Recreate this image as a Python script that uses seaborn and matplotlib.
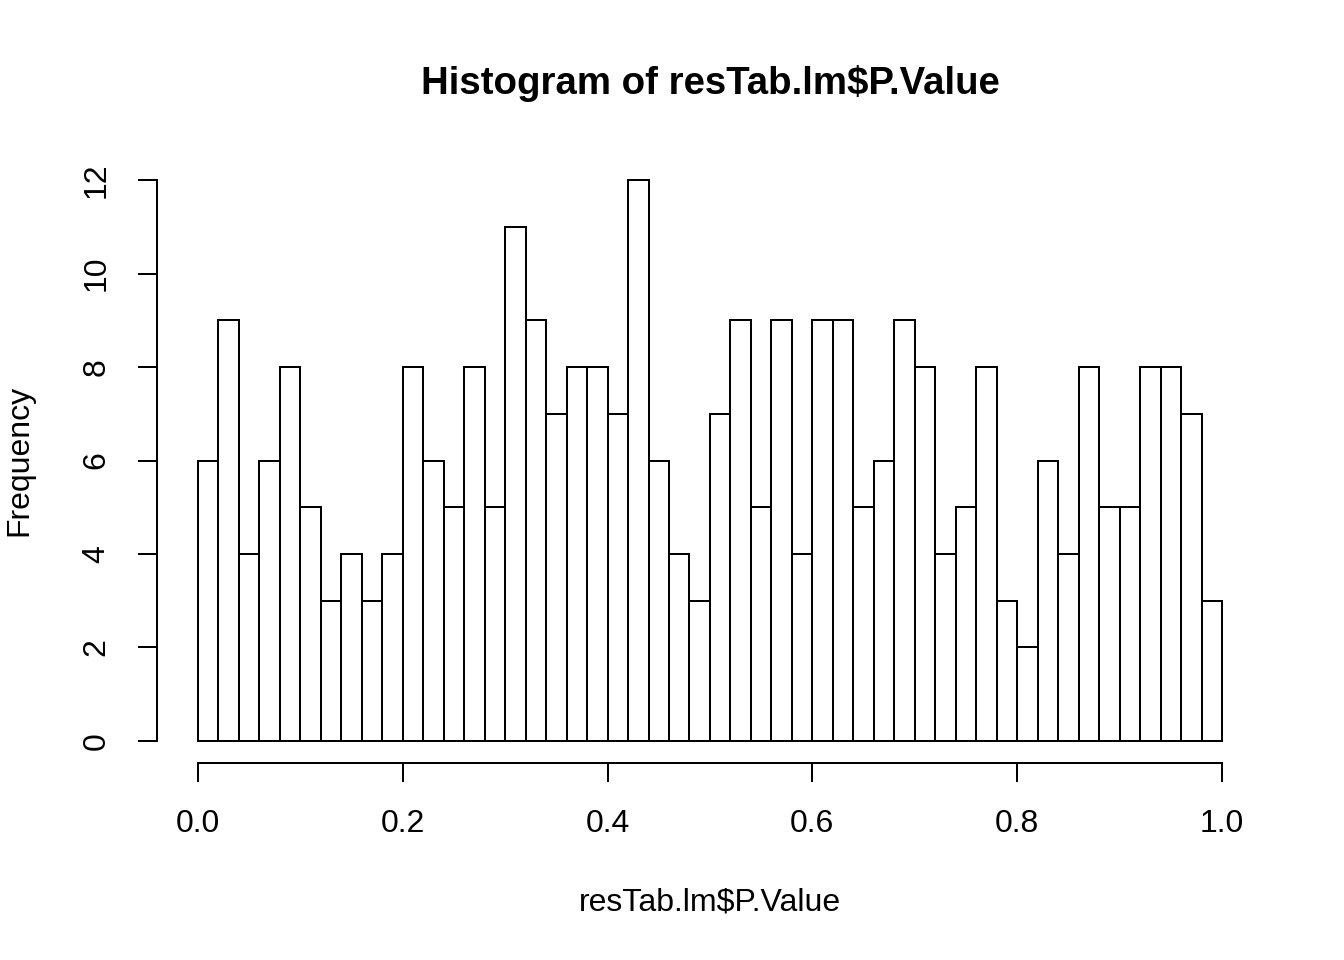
import numpy as np
import pandas as pd
import matplotlib
matplotlib.use("Agg")
import matplotlib.pyplot as plt
import seaborn as sns

# histogram counts, 50 bins of width 0.02 from 0 to 1
counts = [6, 9, 4, 6, 8, 5, 3, 4, 3, 4,
          8, 6, 5, 8, 5, 11, 9, 7, 8, 8,
          7, 12, 6, 4, 3, 7, 9, 5, 9, 4,
          9, 9, 5, 6, 9, 8, 4, 5, 8, 3,
          2, 6, 4, 8, 5, 5, 8, 8, 7, 3]
bin_edges = np.linspace(0, 1, 51)
x_ticks = [0.0, 0.2, 0.4, 0.6, 0.8, 1.0]
y_ticks = [0, 2, 4, 6, 8, 10, 12]

df = pd.DataFrame({"mid": (bin_edges[:-1] + bin_edges[1:]) / 2, "n": counts})

sns.set_style("white")
plt.rcParams["font.family"] = ["Liberation Sans", "DejaVu Sans"]
plt.rcParams["text.color"] = "black"
plt.rcParams["axes.labelcolor"] = "black"
plt.rcParams["xtick.color"] = "black"
plt.rcParams["ytick.color"] = "black"

fig = plt.figure(figsize=(13.44, 9.6), dpi=100)
ax = fig.add_axes([0.1168, 0.2048, 0.8229, 0.631])

sns.histplot(data=df, x="mid", weights="n", binwidth=0.02, binrange=(0, 1),
             ax=ax, color="white", edgecolor="black", linewidth=1.44, alpha=1)

ax.set_xlim(-0.04, 1.04)
ax.set_ylim(-0.48, 12.48)
ax.set_xticks(x_ticks)
ax.set_xticklabels([f"{v:.1f}" for v in x_ticks])
ax.set_yticks(y_ticks)
ax.set_yticklabels([str(v) for v in y_ticks], rotation=90, va="center")

for s in ["top", "right"]:
    ax.spines[s].set_visible(False)
ax.spines["left"].set_bounds(0, 12)
ax.spines["bottom"].set_bounds(0, 1)
for s in ["left", "bottom"]:
    ax.spines[s].set_linewidth(1.44)
    ax.spines[s].set_color("black")

ax.tick_params(axis="both", direction="out", length=13.7, width=1.44,
               color="black", labelcolor="black", labelsize=23, pad=19,
               left=True, bottom=True)

ax.set_xlabel("resTab.lm$P.Value", fontsize=23, labelpad=35, color="black")
ax.set_ylabel("Frequency", fontsize=23, labelpad=34, color="black")
ax.set_title("Histogram of resTab.lm$P.Value", fontsize=27.6,
             fontweight="bold", pad=46, color="black")

fig.savefig("out.png", dpi=100)
